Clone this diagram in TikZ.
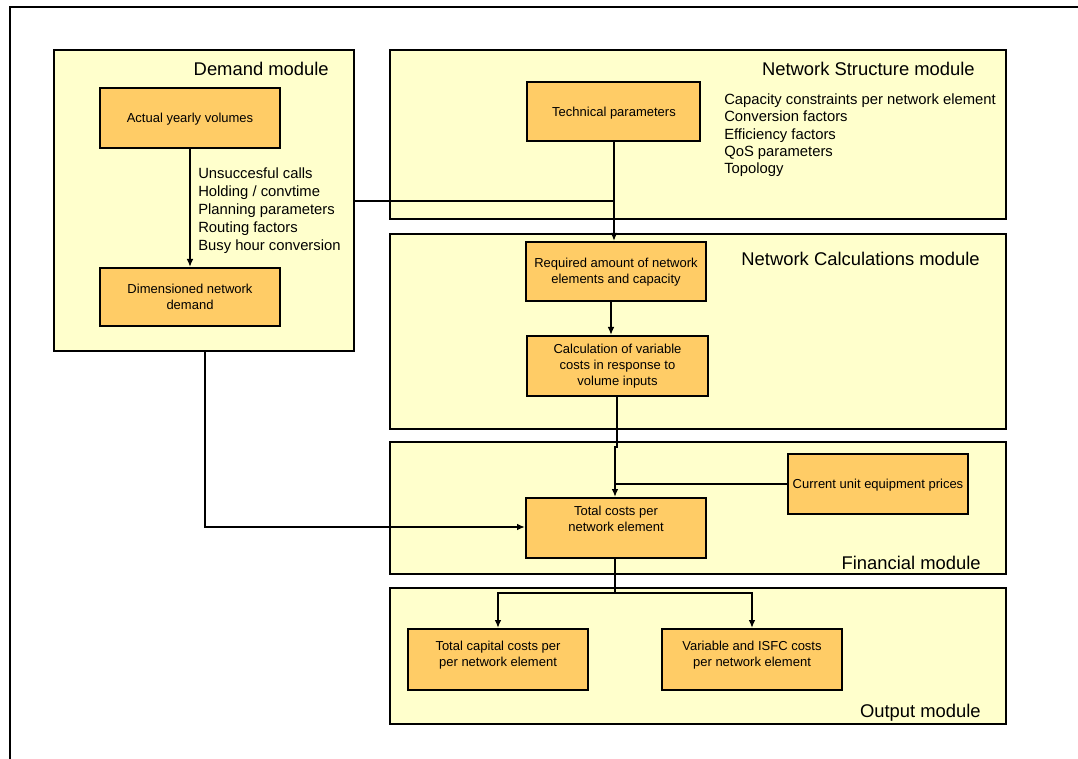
\documentclass[tikz,border=0pt]{standalone}
\usepackage{fontspec}
\setmainfont{Liberation Sans}
\usetikzlibrary{arrows.meta,fit}
\definecolor{modfill}{HTML}{FFFFCC}
\definecolor{boxfill}{HTML}{FFCC66}
\begin{document}
\begin{tikzpicture}[x=0.75pt,y=-0.75pt,
 module/.style={draw, fill=modfill, line width=1.5pt, inner sep=0pt},
 proc/.style={draw, fill=boxfill, line width=1.5pt, inner sep=0pt},
 ptext/.style={inner sep=0pt, align=center, font=\fontsize{9.75}{12}\selectfont},
 title/.style={anchor=east, inner sep=0pt, font=\fontsize{13.8}{16}\selectfont},
 plist/.style={anchor=west, inner sep=0pt, align=left, font=\fontsize{11.1}{13.5}\selectfont},
 conn/.style={line width=1.4pt},
 arr/.style={conn, -{Latex[length=6pt,width=5pt]}}]
\useasboundingbox (0,0) rectangle (1078,759);
\draw[line width=2pt] (10,759) -- (10,7) -- (1078,7);

% modules
\node[module, fit={(54,50)(354,351)}] (dm) {};
\node[module, fit={(390,50)(1006,219)}] (ns) {};
\node[module, fit={(390,234)(1006,429)}] (nc) {};
\node[module, fit={(390,442)(1006,574)}] (fm) {};
\node[module, fit={(390,588)(1006,724)}] (om) {};

\node[title] (t1) at (329,69) {Demand module};
\node[title] (t2) at (975,69) {Network Structure module};
\node[title] (t3) at (980,259) {Network Calculations module};
\node[title] (t4) at (981,563) {Financial module};
\node[title] (t5) at (981,713) {Output module};

% boxes
\node[proc, fit={(100,88)(280,148)}] (ay) {};
\node[proc, fit={(100,268)(280,326)}] (dn) {};
\node[proc, fit={(527,82)(700,141)}] (tp) {};
\node[proc, fit={(526,242)(706,301)}] (ra) {};
\node[proc, fit={(527,336)(708,396)}] (cv) {};
\node[proc, fit={(788,454)(968,514)}] (cu) {};
\node[proc, fit={(526,498)(706,558)}] (tc) {};
\node[proc, fit={(408,629)(588,690)}] (tk) {};
\node[proc, fit={(662,629)(842,690)}] (vi) {};

\node[ptext] (ayt) at (190,119.5) {Actual yearly volumes};
\node[ptext] (dnt) at (190,297) {Dimensioned network\\demand};
\node[ptext] (tpt) at (614,113.5) {Technical parameters};
\node[ptext] (rat) at (616,272.5) {Required amount of network\\elements and capacity};
\node[ptext] (cvt) at (617.5,366.5) {Calculation of variable\\costs in response to\\volume inputs};
\node[ptext] (cut) at (878,485.5) {Current unit equipment prices};
\node[ptext] (tct) at (616,519) {Total costs per\\network element};
\node[ptext] (tkt) at (498,655) {Total capital costs per\\per network element};
\node[ptext] (vit) at (752,655) {Variable and ISFC costs\\per network element};

% lists
\node[plist] (l1) at (198,211) {Unsuccesful calls\\Holding / convtime\\Planning parameters\\Routing factors\\Busy hour conversion};
\node[plist, font=\fontsize{11.1}{13}\selectfont] (l2) at (724,135.5) {Capacity constraints per network element\\Conversion factors\\Efficiency factors\\QoS parameters\\Topology};

% connectors
\draw[arr] (ay.south) -- (dn.north);
\coordinate (j1) at (614,201);
\draw[conn] (dm.east |- j1) -- (j1);
\draw[arr] (tp.south -| j1) -- (j1 |- ra.north);
\coordinate (x1) at (611,0);
\draw[arr] (ra.south -| x1) -- (cv.north -| x1);
\coordinate (x2) at (617,447);
\coordinate (x3) at (615,447);
\draw[arr] (cv.south -| x2) -- (x2) -- (x3) -- (x3 |- tc.north);
\draw[conn] (cu.west) -- (cu.west -| x3);
\coordinate (x4) at (205,527);
\draw[arr] (dm.south -| x4) -- (x4) -- (x4 -| tc.west);
\coordinate (sp) at (615,593);
\draw[conn] (tc.south -| sp) -- (sp);
\draw[arr] (sp) -| (tk.north);
\draw[arr] (sp) -| (vi.north);
\end{tikzpicture}
\end{document}
